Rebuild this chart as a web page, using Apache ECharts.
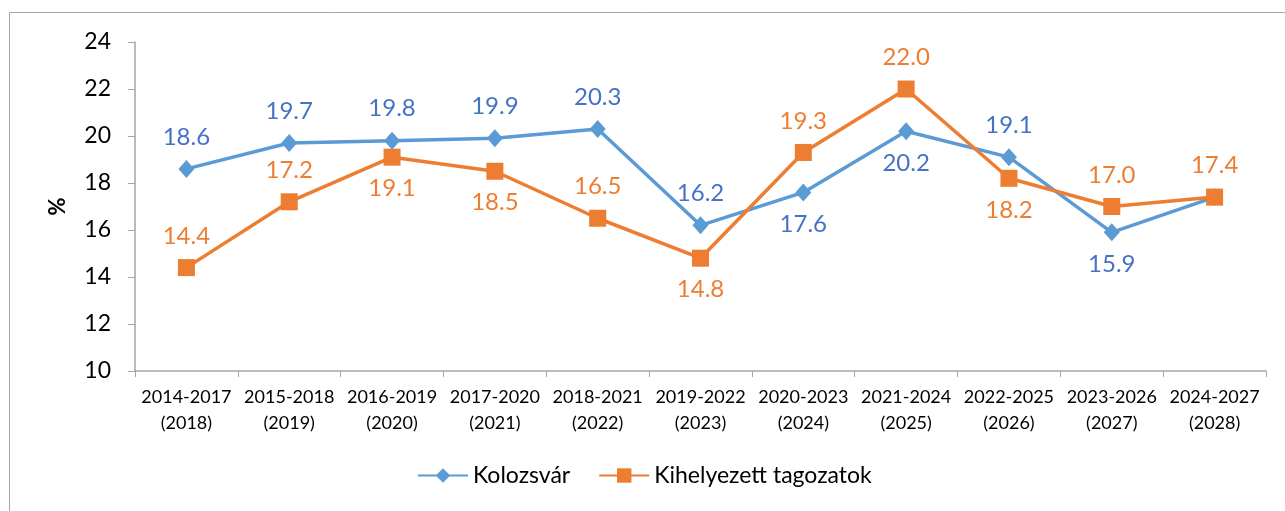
<!DOCTYPE html>
<html>
<head>
<meta charset="utf-8">
<script src="https://cdn.jsdelivr.net/npm/echarts@6/dist/echarts.min.js"></script>
<style>
    html, body { margin: 0; padding: 0; background: #fff; }
    #chart { width: 1285px; height: 511px; }
</style>
</head>
<body>
<div id="chart"></div>
<script>
// adatok
var categories = [
    "2014-2017\n(2018)", "2015-2018\n(2019)", "2016-2019\n(2020)", "2017-2020\n(2021)",
    "2018-2021\n(2022)", "2019-2022\n(2023)", "2020-2023\n(2024)", "2021-2024\n(2025)",
    "2022-2025\n(2026)", "2023-2026\n(2027)", "2024-2027\n(2028)"
];
var kolozsvar = [18.6, 19.7, 19.8, 19.9, 20.3, 16.2, 17.6, 20.2, 19.1, 15.9, 17.4];
var tagozatok = [14.4, 17.2, 19.1, 18.5, 16.5, 14.8, 19.3, 22.0, 18.2, 17.0, 17.4];
// címke helyzete: 1 = fölötte, 0 = alatta, -1 = nincs
var kolozsvarPos = [1, 1, 1, 1, 1, 1, 0, 0, 1, 0, -1];
var tagozatokPos = [1, 1, 0, 0, 1, 0, 1, 1, 0, 1, 1];
var yTicks = { min: 10, max: 24, interval: 2 };

(function () {
    var myChart = echarts.init(document.getElementById("chart"));
    var font = "Lato, 'Open Sans', sans-serif";

    function withLabels(values, pos, color) {
        return values.map(function (v, i) {
            return {
                value: v,
                label: {
                    show: pos[i] >= 0,
                    position: pos[i] === 1 ? "top" : "bottom",
                    distance: 11,
                    color: color,
                    fontSize: 24,
                    fontFamily: font,
                    formatter: function (p) { return p.value.toFixed(1); }
                }
            };
        });
    }

    var option = {
        animation: false,
        textStyle: { fontFamily: font },
        graphic: [{
            type: "rect",
            shape: { x: 9.5, y: 12.5, width: 1400, height: 700 },
            style: { fill: "none", stroke: "#A6A6A6", lineWidth: 1 },
            silent: true
        }],
        legend: {
            bottom: 19,
            left: 412,
            itemWidth: 50,
            itemHeight: 18,
            itemGap: 28,
            textStyle: { fontSize: 23, color: "#000", fontFamily: font },
            data: ["Kolozsvár", "Kihelyezett tagozatok"]
        },
        grid: { left: 135, right: 19, top: 42, bottom: 140 },
        xAxis: {
            type: "category",
            data: categories,
            boundaryGap: true,
            axisLine: { lineStyle: { color: "#A6A6A6", width: 1.5 } },
            axisTick: { show: true, length: 6, lineStyle: { color: "#A6A6A6" } },
            axisLabel: {
                color: "#000",
                fontSize: 18,
                lineHeight: 26,
                margin: 13,
                interval: 0,
                fontFamily: font
            },
            splitLine: { show: false }
        },
        yAxis: {
            type: "value",
            min: yTicks.min,
            max: yTicks.max,
            interval: yTicks.interval,
            name: "%",
            nameLocation: "middle",
            nameGap: 66,
            nameRotate: 90,
            nameTextStyle: { fontSize: 22, fontWeight: "bold", color: "#000", fontFamily: font },
            axisLine: { show: true, lineStyle: { color: "#A6A6A6", width: 1.5 } },
            axisTick: { show: true, length: 7, lineStyle: { color: "#A6A6A6" } },
            axisLabel: { color: "#000", fontSize: 23, margin: 24, fontFamily: font },
            splitLine: { show: false }
        },
        series: [
            {
                name: "Kolozsvár",
                type: "line",
                data: withLabels(kolozsvar, kolozsvarPos, "#4472C4"),
                symbol: "diamond",
                symbolSize: [16, 18],
                lineStyle: { color: "#5B9BD5", width: 3.5 },
                itemStyle: { color: "#5B9BD5" },
                z: 2
            },
            {
                name: "Kihelyezett tagozatok",
                type: "line",
                data: withLabels(tagozatok, tagozatokPos, "#ED7D31"),
                symbol: "rect",
                symbolSize: 17,
                lineStyle: { color: "#ED7D31", width: 3.5 },
                itemStyle: { color: "#ED7D31" },
                z: 3
            }
        ]
    };
    myChart.setOption(option);
    window.addEventListener("resize", function () {
        myChart.resize();
    });
})();
</script>
</body>
</html>
